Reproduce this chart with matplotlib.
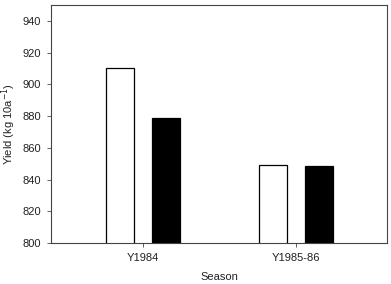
import numpy as np
import matplotlib.pyplot as plt

plt.rcParams['font.family'] = ['Liberation Sans', 'DejaVu Sans']

seasons = ['Y1984', 'Y1985-86']
white_vals = [910, 849]
black_vals = [879, 848.5]

fig = plt.figure(figsize=(3.91, 2.84), dpi=100)
ax = fig.add_axes([51/391, 41/284, 336/391, 238/284])

x = np.arange(len(seasons))
w = 0.183
off = 0.15
ax.bar(x - off, white_vals, w, color='white', edgecolor='black', linewidth=0.9)
ax.bar(x + off, black_vals, w, color='black', edgecolor='black', linewidth=0.9)

ax.set_xlim(-0.6, 1.596)
ax.set_ylim(800, 950)
ax.set_yticks(np.arange(800, 941, 20))
ax.set_xticks(x)
ax.set_xticklabels(seasons)
ax.tick_params(labelsize=8, length=3, width=0.6, color='#444444', labelcolor='#222222', pad=4)
for s in ax.spines.values():
    s.set_linewidth(0.8)
    s.set_color('#444444')
ax.set_xlabel('Season', fontsize=8, labelpad=7, color='#222222')
ax.set_ylabel('Yield (kg 10a$^{-1}$)', fontsize=8, labelpad=3, color='#222222')

fig.savefig('out.png', dpi=100)
